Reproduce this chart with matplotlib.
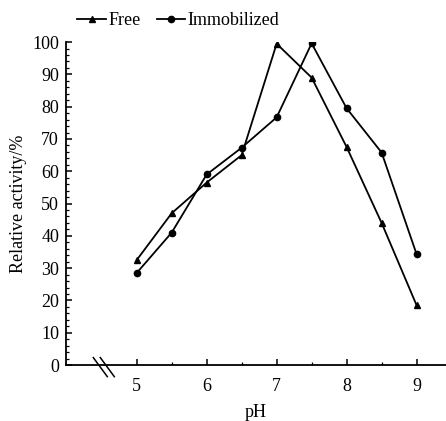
import matplotlib
matplotlib.use("Agg")
import matplotlib.pyplot as plt
from matplotlib.ticker import MultipleLocator, FixedLocator

plt.rcParams['font.family'] = ['Liberation Serif', 'DejaVu Serif']

ph = [5, 5.5, 6, 6.5, 7, 7.5, 8, 8.5, 9]
free = [32.5, 47, 56.5, 65, 99.5, 89, 67.5, 44, 18.5]
immob = [28.5, 41, 59, 67.3, 76.7, 99.6, 79.5, 65.8, 34.3]
xticks = [5, 6, 7, 8, 9]
yticks = list(range(0, 101, 10))

fig = plt.figure(figsize=(4.46, 4.21), dpi=100)
ax = fig.add_axes([0.148, 0.133, 0.852, 0.767])

ax.plot(ph, free, color='black', lw=1.3, marker='^', ms=4.5, label='Free')
ax.plot(ph, immob, color='black', lw=1.3, marker='o', ms=4.5, label='Immobilized')

ax.set_xlim(3.99, 9.42)
ax.set_ylim(0, 100)
ax.set_xticks(xticks)
ax.xaxis.set_minor_locator(FixedLocator([5.5, 6.5, 7.5, 8.5]))
ax.set_yticks(yticks)
ax.yaxis.set_minor_locator(MultipleLocator(2))

for s in ['top', 'right']:
    ax.spines[s].set_visible(False)
for s in ['left', 'bottom']:
    ax.spines[s].set_linewidth(1.3)

fs = 13
ax.tick_params(axis='both', which='major', direction='in', length=4, width=1.1, labelsize=fs)
ax.tick_params(axis='both', which='minor', direction='in', length=2.5, width=0.9)
ax.tick_params(axis='x', which='major', pad=9)
ax.tick_params(axis='y', which='major', pad=5)

ax.set_xlabel('pH', fontsize=fs, labelpad=7)
ax.set_ylabel('Relative activity/%', fontsize=fs, labelpad=4)

# axis break marks
for dx in (0.0, 0.1):
    ax.plot([4.38 + dx, 4.58 + dx], [2.3, -3.6], color='black', lw=1.1, clip_on=False)

ax.legend(loc='lower left', bbox_to_anchor=(0.03, 1.04), ncol=2, frameon=False,
          fontsize=fs, handlelength=1.6, handletextpad=0.1, columnspacing=0.9,
          borderaxespad=0.0, borderpad=0.0)

fig.savefig('out.png', dpi=100)
